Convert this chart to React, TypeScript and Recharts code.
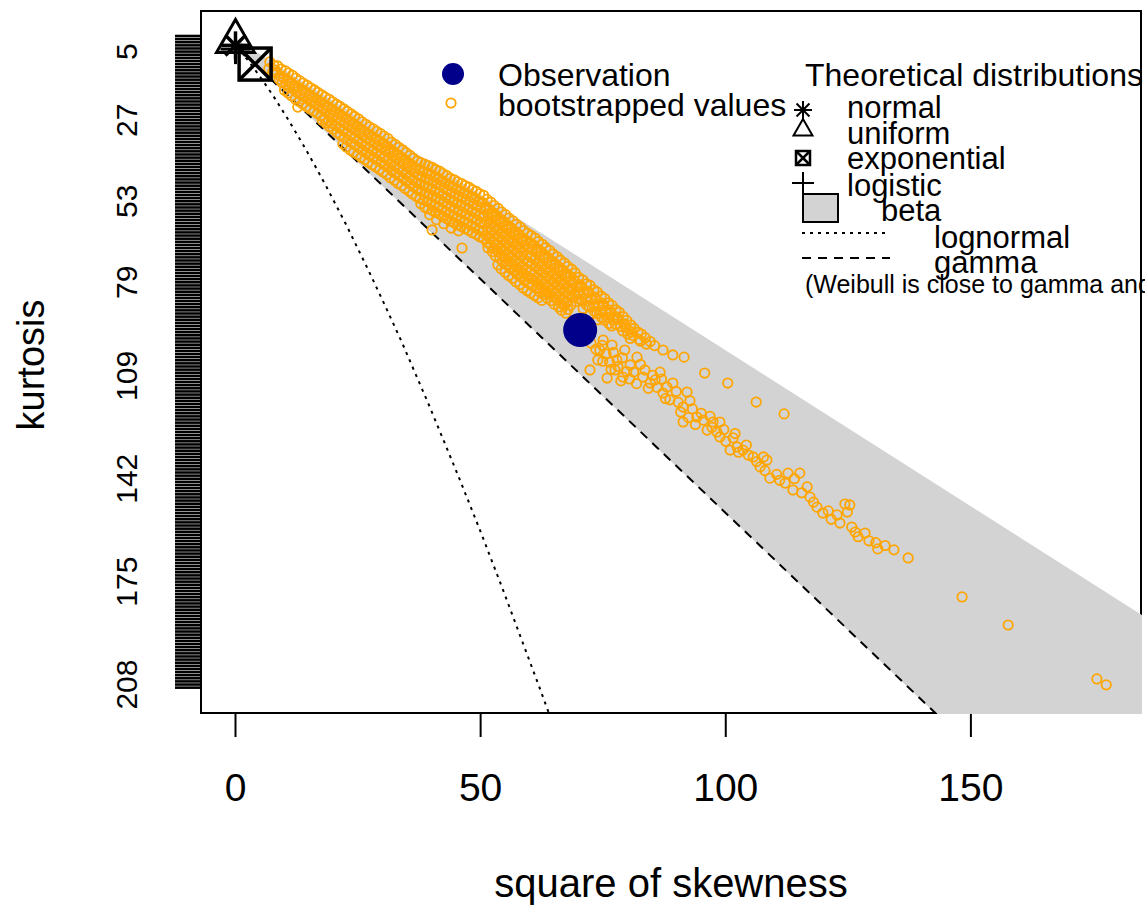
import { ComposedChart, XAxis, YAxis, Area, Line, Scatter } from "recharts";

// Cullen and Frey graph: x = square of skewness, y = kurtosis (axis drawn upside down)
const FONT = "'Liberation Sans', Arial, Helvetica, sans-serif";

const xTicks = [0, 50, 100, 150];
const kurtMax = 209;
const yTicks = Array.from({ length: kurtMax + 1 }, (_, i) => i);
const yTickLabels = [5, 27, 53, 79, 109, 142, 175, 208];

const xDomain = [-7.24, 184.9];
const yDomain = [-8.34, 217.45];

const observation = [{ s2: 70.3, k: 94.3 }];
const normalPt = [{ s2: 0, k: 3 }];
const uniformPt = [{ s2: 0, k: 1.8 }];
const exponentialPt = [{ s2: 4, k: 9 }];
const logisticPt = [{ s2: 0, k: 4.2 }];

// beta area: lower bound kurtosis ~ 1 + s2, upper bound ~ 3 + 1.5 s2
const betaRegion = [
  { s2: 0, band: [1, 3] },
  { s2: 200, band: [201, 303] },
];

const gammaLine = [
  { s2: 0, k: 3 },
  { s2: 150, k: 228 },
];

const lognormalLine = [
  { s2: 0, k: 3 },
  { s2: 0.96, k: 4.76 },
  { s2: 2.05, k: 6.85 },
  { s2: 3.27, k: 9.32 },
  { s2: 4.62, k: 12.2 },
  { s2: 6.13, k: 15.6 },
  { s2: 7.78, k: 19.4 },
  { s2: 10.55, k: 26.3 },
  { s2: 13.7, k: 34.6 },
  { s2: 16, k: 41 },
  { s2: 18.5, k: 48.2 },
  { s2: 22.6, k: 60.6 },
  { s2: 27.1, k: 75.1 },
  { s2: 30.4, k: 86.1 },
  { s2: 33.9, k: 98.1 },
  { s2: 39.5, k: 118.5 },
  { s2: 45.6, k: 141.7 },
  { s2: 50, k: 159 },
  { s2: 54.6, k: 177.8 },
  { s2: 62, k: 208.9 },
  { s2: 64.6, k: 220.1 },
];

// bootstrapped values [s2, kurtosis], dense part of the cloud
const bootBand: [number, number][] = [
  [7.0, 8.3], [6.8, 10.5], [8.1, 10.9], [8.6, 9.6], [8.3, 11.8], [8.9, 13.9],
  [10.2, 11.2], [9.8, 13.4], [10.3, 15.6], [10.0, 17.4],
  [11.6, 12.6], [11.3, 14.9], [11.8, 17.0], [11.4, 19.2], [12.7, 22.8],
  [13.1, 14.3], [12.8, 16.5], [13.3, 18.8], [13.0, 21.0],
  [14.6, 15.8], [14.3, 18.0], [14.8, 20.3], [14.5, 22.6],
  [16.1, 17.3], [15.8, 19.6], [16.3, 21.8], [16.0, 24.1],
  [17.6, 18.9], [17.3, 21.1], [17.8, 23.4], [17.4, 25.6], [17.7, 27.0],
  [19.1, 20.3], [18.8, 22.6], [19.3, 24.9], [19.0, 27.2], [19.2, 29.0],
  [20.6, 21.9], [20.3, 24.2], [20.8, 26.4], [20.4, 28.7], [20.7, 31.0],
  [22.1, 23.4], [21.8, 25.7], [22.3, 28.0], [22.0, 30.3], [22.2, 32.6], [21.9, 34.6],
  [23.6, 25.0], [23.3, 27.3], [23.8, 29.6], [23.5, 31.9], [23.7, 34.2], [23.4, 36.6],
  [25.1, 26.6], [24.8, 28.9], [25.3, 31.2], [25.0, 33.5], [25.2, 35.8], [24.9, 38.0],
  [26.6, 28.3], [26.3, 30.6], [26.8, 32.9], [26.5, 35.2], [26.7, 37.5], [26.4, 39.6],
  [28.1, 29.8], [27.8, 32.1], [28.3, 34.4], [28.0, 36.7], [28.2, 39.0], [27.9, 41.3],
  [29.6, 31.3], [29.3, 33.6], [29.8, 35.9], [29.5, 38.2], [29.7, 40.5], [29.4, 42.8],
  [31.1, 32.9], [30.8, 35.2], [31.3, 37.5], [31.0, 39.8], [31.2, 42.1], [30.9, 44.4],
  [32.6, 34.8], [32.3, 37.1], [32.8, 39.4], [32.5, 41.7], [32.7, 44.0], [32.4, 46.3],
  [34.1, 36.5], [33.8, 38.8], [34.3, 41.1], [34.0, 43.4], [34.2, 45.7], [33.9, 48.0],
  [35.6, 38.3], [35.3, 40.6], [35.8, 42.9], [35.5, 45.2], [35.7, 47.5], [35.4, 49.8],
  [37.1, 40.1], [36.8, 42.4], [37.3, 44.7], [37.0, 47.0], [37.2, 49.3], [36.9, 51.5],
  [38.6, 41.1], [38.3, 43.4], [38.8, 45.7], [38.5, 48.0], [38.7, 50.3], [38.4, 52.6], [38.6, 54.9],
  [40.1, 42.1], [39.8, 44.4], [40.3, 46.7], [40.0, 49.0], [40.2, 51.3], [39.9, 53.6], [40.1, 55.9], [40.1, 62.2],
  [41.6, 43.3], [41.3, 45.6], [41.8, 47.9], [41.5, 50.2], [41.7, 52.5], [41.4, 54.8], [41.6, 57.1],
  [43.1, 44.8], [42.8, 47.1], [43.3, 49.4], [43.0, 51.7], [43.2, 54.0], [42.9, 56.3], [43.1, 58.6],
  [44.6, 46.1], [44.3, 48.4], [44.8, 50.7], [44.5, 53.0], [44.7, 55.3], [44.4, 57.6], [44.6, 59.9],
  [46.1, 47.3], [45.8, 49.6], [46.3, 51.9], [46.0, 54.2], [46.2, 56.5], [45.9, 58.8], [46.1, 61.1], [46.2, 68.0],
  [47.6, 48.5], [47.3, 50.8], [47.8, 53.1], [47.5, 55.4], [47.7, 57.7], [47.4, 60.0], [47.6, 62.3],
  [49.1, 49.8], [48.8, 52.1], [49.3, 54.4], [49.0, 56.7], [49.2, 59.0], [48.9, 61.3], [49.1, 63.6],
  [50.6, 51.1], [50.3, 53.4], [50.8, 55.7], [50.5, 58.0], [50.7, 60.3], [50.4, 62.6], [50.6, 64.9],
  [52.1, 53.3], [51.8, 55.6], [52.3, 57.9], [52.0, 60.2], [52.2, 62.5], [51.9, 64.8], [52.1, 67.1], [52.4, 69.2],
  [53.6, 55.3], [53.3, 57.6], [53.8, 59.9], [53.5, 62.2], [53.7, 64.5], [53.4, 66.8], [53.6, 69.1], [53.9, 71.4], [53.5, 73.4],
  [55.1, 57.3], [54.8, 59.6], [55.3, 61.9], [55.0, 64.2], [55.2, 66.5], [54.9, 68.8], [55.1, 71.1], [55.4, 73.4], [55.0, 75.8],
  [56.6, 59.3], [56.3, 61.6], [56.8, 63.9], [56.5, 66.2], [56.7, 68.5], [56.4, 70.8], [56.6, 73.1], [56.9, 75.4], [56.5, 77.7],
  [58.1, 61.3], [57.8, 63.6], [58.3, 65.9], [58.0, 68.2], [58.2, 70.5], [57.9, 72.8], [58.1, 75.1], [58.4, 77.4], [58.0, 79.7],
  [59.6, 63.3], [59.3, 65.6], [59.8, 67.9], [59.5, 70.2], [59.7, 72.5], [59.4, 74.8], [59.6, 77.1], [59.9, 79.4], [59.5, 81.7],
  [61.1, 64.8], [60.8, 67.1], [61.3, 69.4], [61.0, 71.7], [61.2, 74.0], [60.9, 76.3], [61.1, 78.6], [61.4, 80.9], [61.0, 83.2],
  [62.6, 66.8], [62.3, 69.1], [62.8, 71.4], [62.5, 73.7], [62.7, 76.0], [62.4, 78.3], [62.6, 80.6], [62.9, 82.9], [62.5, 84.8],
  [64.1, 68.8], [63.8, 71.1], [64.3, 73.4], [64.0, 75.7], [64.2, 78.0], [63.9, 80.3], [64.1, 82.6], [64.4, 84.9],
  [65.6, 70.8], [65.3, 73.1], [65.8, 75.4], [65.5, 77.7], [65.7, 80.0], [65.4, 82.3], [65.6, 84.6], [65.9, 86.9],
  [67.1, 72.8], [66.8, 75.1], [67.3, 77.4], [67.0, 79.7], [67.2, 82.0], [66.9, 84.3], [67.1, 86.6], [67.4, 88.9],
  [68.6, 74.8], [68.3, 77.1], [68.8, 79.4], [68.5, 81.7], [68.7, 84.0], [68.4, 86.3],
];

// more of the dense part, lying between the rows above
const bootBandMid: [number, number][] = [
  [7.8, 9.4], [7.6, 11.6],
  [9.3, 10.6], [9.1, 12.8], [9.5, 14.9],
  [10.8, 11.9], [10.6, 14.2], [11.0, 16.4], [10.7, 18.3],
  [12.3, 13.5], [12.1, 15.8], [12.5, 18.0], [12.2, 20.2],
  [13.8, 15.1], [13.6, 17.3], [14.0, 19.6], [13.7, 21.8],
  [15.3, 16.6], [15.1, 18.9], [15.5, 21.1], [15.2, 23.4],
  [16.8, 18.1], [16.6, 20.4], [17.0, 22.6], [16.7, 24.9],
  [18.3, 19.6], [18.1, 21.9], [18.5, 24.1], [18.2, 26.4], [18.4, 27.9],
  [19.8, 21.1], [19.6, 23.4], [20.0, 25.6], [19.7, 27.9], [19.9, 29.9],
  [21.3, 22.6], [21.1, 24.9], [21.5, 27.2], [21.2, 29.5], [21.4, 31.8],
  [22.8, 24.2], [22.6, 26.5], [23.0, 28.8], [22.7, 31.1], [22.9, 33.4], [22.6, 35.6],
  [24.3, 25.8], [24.1, 28.1], [24.5, 30.4], [24.2, 32.7], [24.4, 35.0], [24.1, 37.3],
  [25.8, 27.5], [25.6, 29.8], [26.0, 32.1], [25.7, 34.4], [25.9, 36.7], [25.6, 38.9],
  [27.3, 29.1], [27.1, 31.4], [27.5, 33.7], [27.2, 36.0], [27.4, 38.3], [27.1, 40.5],
  [28.8, 30.6], [28.6, 32.9], [29.0, 35.2], [28.7, 37.5], [28.9, 39.8], [28.6, 42.0],
  [30.3, 32.1], [30.1, 34.4], [30.5, 36.7], [30.2, 39.0], [30.4, 41.3], [30.1, 43.6],
  [31.8, 34.0], [31.6, 36.3], [32.0, 38.6], [31.7, 40.9], [31.9, 43.2], [31.6, 45.5],
  [33.3, 35.7], [33.1, 38.0], [33.5, 40.3], [33.2, 42.6], [33.4, 44.9], [33.1, 47.2],
  [34.8, 37.4], [34.6, 39.7], [35.0, 42.0], [34.7, 44.3], [34.9, 46.6], [34.6, 48.9],
  [36.3, 39.2], [36.1, 41.5], [36.5, 43.8], [36.2, 46.1], [36.4, 48.4], [36.1, 50.7],
  [37.8, 40.6], [37.6, 42.9], [38.0, 45.2], [37.7, 47.5], [37.9, 49.8], [37.6, 52.1], [37.8, 53.8],
  [39.3, 41.6], [39.1, 43.9], [39.5, 46.2], [39.2, 48.5], [39.4, 50.8], [39.1, 53.1], [39.3, 55.4], [39.6, 57.3],
  [40.8, 42.8], [40.6, 45.1], [41.0, 47.4], [40.7, 49.7], [40.9, 52.0], [40.6, 54.3], [40.8, 56.6], [41.0, 58.9],
  [42.3, 44.1], [42.1, 46.4], [42.5, 48.7], [42.2, 51.0], [42.4, 53.3], [42.1, 55.6], [42.3, 57.9], [42.5, 60.2],
  [43.8, 45.6], [43.6, 47.9], [44.0, 50.2], [43.7, 52.5], [43.9, 54.8], [43.6, 57.1], [43.8, 59.4], [44.0, 61.6],
  [45.3, 46.8], [45.1, 49.1], [45.5, 51.4], [45.2, 53.7], [45.4, 56.0], [45.1, 58.3], [45.3, 60.6], [45.5, 62.5],
  [46.8, 48.0], [46.6, 50.3], [47.0, 52.6], [46.7, 54.9], [46.9, 57.2], [46.6, 59.5], [46.8, 61.8],
  [48.3, 49.3], [48.1, 51.6], [48.5, 53.9], [48.2, 56.2], [48.4, 58.5], [48.1, 60.8], [48.3, 63.1],
  [49.8, 50.6], [49.6, 52.9], [50.0, 55.2], [49.7, 57.5], [49.9, 59.8], [49.6, 62.1], [49.8, 64.4],
  [51.3, 52.4], [51.1, 54.7], [51.5, 57.0], [51.2, 59.3], [51.4, 61.6], [51.1, 63.9], [51.3, 66.2], [51.5, 67.9],
  [52.8, 54.4], [52.6, 56.7], [53.0, 59.0], [52.7, 61.3], [52.9, 63.6], [52.6, 65.9], [52.8, 68.2], [53.0, 70.5],
  [54.3, 56.4], [54.1, 58.7], [54.5, 61.0], [54.2, 63.3], [54.4, 65.6], [54.1, 67.9], [54.3, 70.2], [54.5, 72.5], [54.2, 74.7],
  [55.8, 58.4], [55.6, 60.7], [56.0, 63.0], [55.7, 65.3], [55.9, 67.6], [55.6, 69.9], [55.8, 72.2], [56.0, 74.5], [55.7, 76.8],
  [57.3, 60.4], [57.1, 62.7], [57.5, 65.0], [57.2, 67.3], [57.4, 69.6], [57.1, 71.9], [57.3, 74.2], [57.5, 76.5], [57.2, 78.8],
  [58.8, 62.4], [58.6, 64.7], [59.0, 67.0], [58.7, 69.3], [58.9, 71.6], [58.6, 73.9], [58.8, 76.2], [59.0, 78.5], [58.7, 80.8],
  [60.3, 64.0], [60.1, 66.3], [60.5, 68.6], [60.2, 70.9], [60.4, 73.2], [60.1, 75.5], [60.3, 77.8], [60.5, 80.1], [60.2, 82.4],
  [61.8, 65.9], [61.6, 68.2], [62.0, 70.5], [61.7, 72.8], [61.9, 75.1], [61.6, 77.4], [61.8, 79.7], [62.0, 82.0], [61.7, 84.0],
  [63.3, 67.9], [63.1, 70.2], [63.5, 72.5], [63.2, 74.8], [63.4, 77.1], [63.1, 79.4], [63.3, 81.7], [63.5, 84.0],
  [64.8, 69.9], [64.6, 72.2], [65.0, 74.5], [64.7, 76.8], [64.9, 79.1], [64.6, 81.4], [64.8, 83.7], [65.0, 86.0],
  [66.3, 71.9], [66.1, 74.2], [66.5, 76.5], [66.2, 78.8], [66.4, 81.1], [66.1, 83.4], [66.3, 85.7], [66.5, 88.0],
  [67.8, 73.9], [67.6, 76.2], [68.0, 78.5], [67.7, 80.8], [67.9, 83.1], [67.6, 85.4], [67.8, 87.7],
];

// band running past the observation
const bootUpper: [number, number][] = [
  [69.3, 76.0], [69.1, 78.3], [69.5, 80.6], [69.2, 82.9], [69.4, 85.2],
  [70.0, 77.4], [70.2, 79.7], [69.9, 82.0], [70.1, 84.3],
  [70.8, 78.2], [70.6, 80.5], [71.0, 82.8], [70.7, 85.1], [70.9, 87.4],
  [71.6, 79.5], [71.8, 81.8], [71.5, 84.1], [71.7, 86.4],
  [72.3, 80.0], [72.1, 82.3], [72.5, 84.6], [72.2, 86.9], [72.4, 89.2],
  [73.1, 81.4], [73.3, 83.7], [73.0, 86.0], [73.2, 88.3],
  [73.8, 82.1], [73.6, 84.4], [74.0, 86.7], [73.7, 89.0], [73.9, 91.0],
  [74.6, 83.4], [74.8, 85.7], [74.5, 88.0], [74.7, 90.3],
  [75.3, 84.2], [75.1, 86.5], [75.5, 88.8], [75.2, 91.1],
  [76.1, 85.6], [76.3, 87.9], [76.0, 90.2], [76.2, 92.2],
  [76.8, 86.4], [76.6, 88.7], [77.0, 91.0], [76.7, 93.0],
  [77.6, 87.8], [77.8, 90.1], [77.5, 92.4],
  [78.3, 88.6], [78.1, 90.9], [78.5, 93.2],
  [79.1, 90.0], [79.3, 92.3], [79.0, 94.6],
  [79.8, 91.2], [79.6, 93.5], [80.0, 95.6],
  [80.6, 92.6], [80.8, 94.9], [80.5, 97.0],
  [81.3, 93.8], [81.1, 96.1], [82.1, 95.0], [82.3, 97.3],
  [82.8, 95.6], [82.6, 97.9], [83.6, 96.8], [83.8, 98.8],
  [84.6, 98.0], [85.5, 99.3],
];

// lower branch and the sparse tail
const bootTail: [number, number][] = [
  [72.5, 98.5], [73.5, 100.5], [74.8, 99.2], [75.6, 102.0], [74.9, 104.3], [76.3, 104.6],
  [77.1, 101.5], [78.0, 106.0], [76.6, 106.9], [78.9, 103.2], [79.8, 107.6], [78.6, 110.6],
  [80.4, 110.0], [81.2, 107.8], [81.8, 111.5], [82.6, 105.3], [84.2, 113.0], [85.1, 108.8],
  [86.0, 112.7], [86.9, 110.0], [87.7, 116.3], [88.0, 112.6], [89.9, 114.0], [90.3, 117.5],
  [90.8, 120.6], [92.7, 117.0], [93.2, 119.6], [92.4, 122.4], [93.8, 124.6], [95.0, 121.0],
  [96.8, 122.0], [97.2, 125.5], [99.6, 126.2], [100.0, 130.0], [101.9, 127.5], [102.6, 133.5],
  [104.2, 131.2], [104.6, 134.4], [106.3, 136.5], [107.7, 135.0], [108.0, 139.4], [110.4, 140.6],
  [111.0, 142.5], [114.0, 142.0], [115.5, 146.5], [117.9, 149.5], [120.9, 152.3], [121.5, 155.0],
  [124.8, 152.7], [127.0, 160.6], [130.6, 162.5], [131.0, 164.5], [134.3, 164.8],
  [75.0, 97.5], [74.3, 100.7], [76.8, 99.1], [79.4, 100.7], [73.9, 103.9], [77.8, 103.9],
  [72.3, 107.1], [75.8, 109.7], [77.4, 107.1], [79.0, 109.4], [80.5, 105.5], [81.9, 103.0],
  [83.1, 109.4], [83.5, 107.1], [84.6, 111.3], [85.6, 110.3], [86.6, 107.8], [87.2, 114.5],
  [88.6, 116.7], [89.2, 111.3], [91.3, 119.0], [92.1, 114.2], [91.3, 123.8], [94.1, 122.2],
  [87.2, 100.7], [89.2, 102.3], [91.5, 103.0], [95.7, 108.1], [100.4, 111.3], [106.2, 117.4], [111.9, 121.2],
  [95.4, 123.2], [97.4, 123.8], [98.8, 123.8], [96.2, 126.4], [98.2, 127.0], [98.8, 128.6],
  [101.5, 128.9], [100.9, 132.8], [102.3, 131.8], [103.5, 132.8], [105.6, 135.0], [108.4, 136.0],
  [107.0, 138.2], [109.0, 141.8], [112.7, 140.2], [115.1, 140.2], [112.1, 143.4], [113.7, 145.6],
  [116.6, 144.6], [117.2, 147.9], [118.6, 151.1], [119.8, 153.0], [122.7, 153.6], [124.3, 150.1],
  [123.3, 156.2], [125.3, 150.4], [125.7, 157.5], [126.4, 159.1], [128.4, 159.4], [129.2, 161.9],
  [132.5, 163.4], [137.2, 167.4], [148.2, 179.9], [157.6, 188.9], [175.7, 206.2], [177.6, 208.1],
];

const bootData = [...bootBand, ...bootBandMid, ...bootUpper, ...bootTail].map(([s2, k]) => ({ s2, k }));

const BootDot = (p: any) => (
  <circle cx={p.cx} cy={p.cy} r={4.7} fill="none" stroke="#FFA500" strokeWidth={1.8} />
);

const ObsDot = (p: any) => <circle cx={p.cx} cy={p.cy} r={17} fill="#00008B" />;

const Asterisk = ({ cx, cy, s = 14, w = 3.5 }: any) => {
  const d = s * 0.72;
  return (
    <g stroke="#000" strokeWidth={w}>
      <line x1={cx - s} y1={cy} x2={cx + s} y2={cy} />
      <line x1={cx} y1={cy - s} x2={cx} y2={cy + s} />
      <line x1={cx - d} y1={cy - d} x2={cx + d} y2={cy + d} />
      <line x1={cx - d} y1={cy + d} x2={cx + d} y2={cy - d} />
    </g>
  );
};

const Triangle = ({ cx, cy, s = 1, w = 3 }: any) => (
  <polygon
    points={`${cx},${cy - 22 * s} ${cx - 19 * s},${cy + 11 * s} ${cx + 19 * s},${cy + 11 * s}`}
    fill="none"
    stroke="#000"
    strokeWidth={w}
  />
);

const Plus = ({ cx, cy, s = 15, w = 3 }: any) => (
  <g stroke="#000" strokeWidth={w}>
    <line x1={cx - s} y1={cy} x2={cx + s} y2={cy} />
    <line x1={cx} y1={cy - s} x2={cx} y2={cy + s} />
  </g>
);

const BoxX = ({ cx, cy, s = 16, w = 3.5 }: any) => (
  <g stroke="#000" strokeWidth={w} fill="none">
    <rect x={cx - s} y={cy - s} width={2 * s} height={2 * s} />
    <line x1={cx - s} y1={cy - s} x2={cx + s} y2={cy + s} />
    <line x1={cx - s} y1={cy + s} x2={cx + s} y2={cy - s} />
  </g>
);

const XTick = ({ x, y, payload }: any) => (
  <text x={x} y={y + 62} textAnchor="middle" fontSize={39} fontFamily={FONT} fill="#000">
    {payload.value}
  </text>
);

const YTick = ({ y, payload }: any) => {
  if (!yTickLabels.includes(payload.value)) return <g />;
  return (
    <text
      x={137}
      y={y}
      transform={`rotate(-90, 137, ${y})`}
      textAnchor="middle"
      fontSize={30}
      fontFamily={FONT}
      fill="#000"
    >
      {payload.value}
    </text>
  );
};

function LegendAndTitles() {
  const txt = { fontFamily: FONT, fill: "#000" };
  return (
    <svg
      width={1145}
      height={911}
      style={{ position: "absolute", left: 0, top: 0, pointerEvents: "none" }}
    >
      <text x={671} y={897} textAnchor="middle" fontSize={40} {...txt}>
        square of skewness
      </text>
      <text x={44} y={365} transform="rotate(-90, 44, 365)" textAnchor="middle" fontSize={38} {...txt}>
        kurtosis
      </text>

      <circle cx={453} cy={74} r={11} fill="#00008B" />
      <text x={498} y={86} fontSize={32} {...txt}>Observation</text>
      <circle cx={451} cy={103} r={4.7} fill="none" stroke="#FFA500" strokeWidth={1.8} />
      <text x={498} y={116} fontSize={32} {...txt}>bootstrapped values</text>

      <text x={805} y={86} fontSize={32} {...txt}>Theoretical distributions</text>
      <Asterisk cx={803} cy={110} s={9} w={2} />
      <text x={847} y={118} fontSize={31} {...txt}>normal</text>
      <Triangle cx={803} cy={130} s={0.5} w={2} />
      <text x={847} y={144} fontSize={31} {...txt}>uniform</text>
      <BoxX cx={803} cy={158} s={7} w={2.5} />
      <text x={847} y={169} fontSize={31} {...txt}>exponential</text>
      <Plus cx={803} cy={183} s={11} w={2} />
      <text x={847} y={196} fontSize={31} {...txt}>logistic</text>
      <rect x={803} y={194} width={35} height={28} fill="#D3D3D3" stroke="#000" strokeWidth={2} />
      <text x={881} y={221} fontSize={31} {...txt}>beta</text>
      <line x1={802} y1={233} x2={889} y2={233} stroke="#000" strokeWidth={2} strokeDasharray="3 5" />
      <text x={934} y={248} fontSize={31} {...txt}>lognormal</text>
      <line x1={802} y1={258} x2={890} y2={258} stroke="#000" strokeWidth={2} strokeDasharray="9 7" />
      <text x={934} y={273} fontSize={31} {...txt}>gamma</text>
      <text x={805} y={293} fontSize={25} {...txt}>(Weibull is close to gamma and lognormal)</text>
    </svg>
  );
}

export default function App() {
  return (
    <div style={{ position: "absolute", left: 0, top: 0, width: 1145, height: 911, background: "#fff" }}>
      {/* plot box, drawn under the chart so the beta area covers it */}
      <svg width={1145} height={911} style={{ position: "absolute", left: 0, top: 0 }}>
        <rect x={201} y={11} width={940} height={702} fill="none" stroke="#000" strokeWidth={2} />
      </svg>
      <div style={{ position: "absolute", left: 0, top: 0 }}>
        <ComposedChart width={1145} height={911} margin={{ top: 10, right: 3, bottom: 0, left: 0 }}>
          <XAxis
            dataKey="s2"
            type="number"
            domain={xDomain}
            allowDataOverflow
            ticks={xTicks}
            interval={0}
            height={197}
            stroke="#000"
            axisLine={false}
            tickSize={23}
            tickLine={{ stroke: "#000", strokeWidth: 2 }}
            tick={<XTick />}
          />
          <YAxis
            type="number"
            domain={yDomain}
            reversed
            allowDataOverflow
            ticks={yTicks}
            interval={0}
            width={200}
            stroke="#000"
            axisLine={false}
            tickSize={25}
            tickLine={{ stroke: "#000", strokeWidth: 2.6 }}
            tick={<YTick />}
          />
          <Area
            data={betaRegion}
            dataKey="band"
            type="linear"
            fill="#D3D3D3"
            fillOpacity={1}
            stroke="#D3D3D3"
            isAnimationActive={false}
          />
          <Line
            data={lognormalLine}
            dataKey="k"
            type="linear"
            stroke="#000"
            strokeWidth={2}
            strokeDasharray="3 5"
            dot={false}
            activeDot={false}
            isAnimationActive={false}
          />
          <Line
            data={gammaLine}
            dataKey="k"
            type="linear"
            stroke="#000"
            strokeWidth={2}
            strokeDasharray="9 7"
            dot={false}
            activeDot={false}
            isAnimationActive={false}
          />
          <Scatter data={bootData} dataKey="k" shape={BootDot} isAnimationActive={false} />
          <Scatter data={observation} dataKey="k" shape={ObsDot} isAnimationActive={false} />
          <Scatter data={normalPt} dataKey="k" shape={(p: any) => <Asterisk cx={p.cx} cy={p.cy} />} isAnimationActive={false} />
          <Scatter data={uniformPt} dataKey="k" shape={(p: any) => <Triangle cx={p.cx} cy={p.cy} />} isAnimationActive={false} />
          <Scatter data={exponentialPt} dataKey="k" shape={(p: any) => <BoxX cx={p.cx} cy={p.cy} />} isAnimationActive={false} />
          <Scatter data={logisticPt} dataKey="k" shape={(p: any) => <Plus cx={p.cx} cy={p.cy} />} isAnimationActive={false} />
        </ComposedChart>
      </div>
      <LegendAndTitles />
    </div>
  );
}
